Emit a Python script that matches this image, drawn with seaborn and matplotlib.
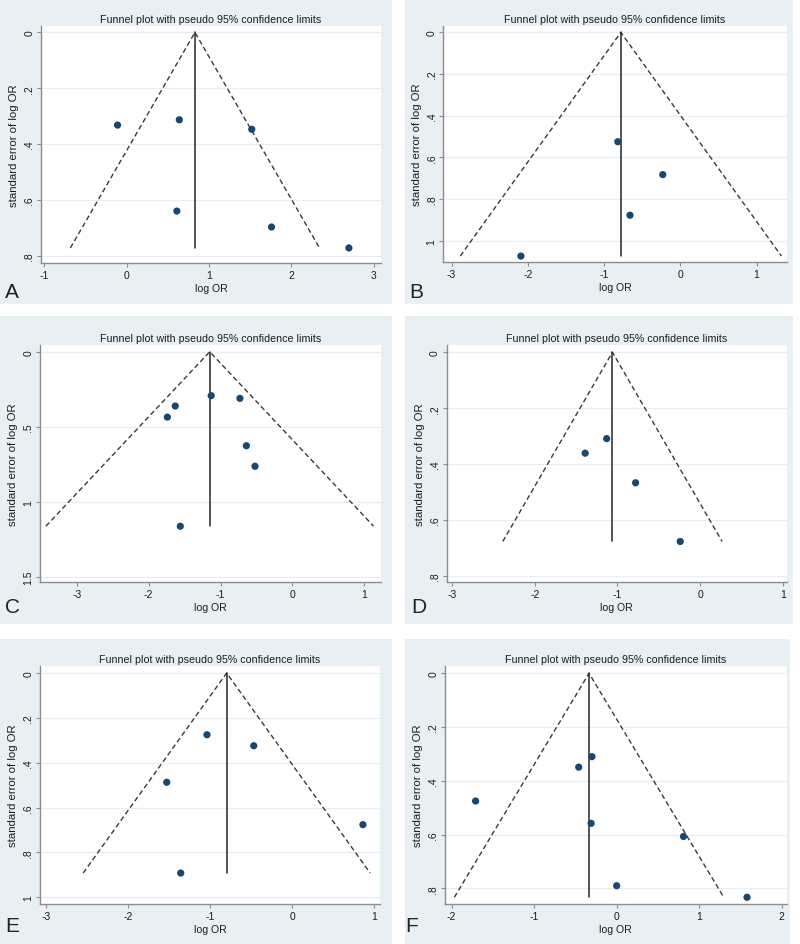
import matplotlib
matplotlib.use("Agg")
import matplotlib.pyplot as plt
import seaborn as sns
import pandas as pd
from matplotlib.patches import Rectangle

# ---------------- data ----------------
a_lor = [-0.11, 0.64, 1.52, 0.61, 1.76, 2.70]
a_se = [0.332, 0.313, 0.347, 0.640, 0.697, 0.772]
a_pooled = 0.83

b_lor = [-0.82, -0.23, -0.66, -2.09]
b_se = [0.525, 0.683, 0.878, 1.074]
b_pooled = -0.78

c_lor = [-1.63, -1.74, -1.13, -0.73, -0.64, -0.52, -1.56]
c_se = [0.362, 0.436, 0.293, 0.311, 0.627, 0.764, 1.164]
c_pooled = -1.15

d_lor = [-1.13, -1.39, -0.78, -0.24]
d_se = [0.309, 0.361, 0.467, 0.677]
d_pooled = -1.06

e_lor = [-1.04, -0.47, -1.53, 0.86, -1.36]
e_se = [0.275, 0.324, 0.487, 0.676, 0.892]
e_pooled = -0.80

f_lor = [-0.30, -0.46, -1.71, -0.31, 0.81, 0.00, 1.58]
f_se = [0.310, 0.349, 0.475, 0.558, 0.607, 0.790, 0.833]
f_pooled = -0.335

panel_letters = ["A", "B", "C", "D", "E", "F"]
title_text = "Funnel plot with pseudo 95% confidence limits"
x_label = "log OR"
y_label = "standard error of log OR"

yt_02_08 = [0, 0.2, 0.4, 0.6, 0.8]
yl_02_08 = ["0", ".2", ".4", ".6", ".8"]
yt_02_10 = [0, 0.2, 0.4, 0.6, 0.8, 1.0]
yl_02_10 = ["0", ".2", ".4", ".6", ".8", "1"]
yt_05_15 = [0, 0.5, 1.0, 1.5]
yl_05_15 = ["0", ".5", "1", "1.5"]
xt_m1_3 = [-1, 0, 1, 2, 3]
xt_m3_1 = [-3, -2, -1, 0, 1]
xt_m2_2 = [-2, -1, 0, 1, 2]

# ---------------- layout ----------------
W, H = 800, 945
BG = "#e9f0f3"
NAVY = "#1a476f"
AXC = "#8c8c8c"
TXT = "#1c1c1c"

panels = [
    dict(lor=a_lor, se=a_se, pooled=a_pooled, xt=xt_m1_3, yt=yt_02_08, yl=yl_02_08,
         xlim=(-1.04, 3.09), ylim=(0.827, -0.024),
         box=(41, 26.7, 381, 264.3), bg=(0, 0, 392, 305), letter=(5, 298)),
    dict(lor=b_lor, se=b_se, pooled=b_pooled, xt=xt_m3_1, yt=yt_02_10, yl=yl_02_10,
         xlim=(-3.108, 1.395), ylim=(1.104, -0.032),
         box=(443.3, 26.7, 786.7, 263.3), bg=(405, 0, 793, 305), letter=(409, 298)),
    dict(lor=c_lor, se=c_se, pooled=c_pooled, xt=xt_m3_1, yt=yt_05_15, yl=yl_05_15,
         xlim=(-3.513, 1.234), ylim=(1.538, -0.047),
         box=(40, 345.7, 381, 583.3), bg=(0, 317, 392, 625), letter=(5, 613)),
    dict(lor=d_lor, se=d_se, pooled=d_pooled, xt=xt_m3_1, yt=yt_02_08, yl=yl_02_08,
         xlim=(-3.065, 1.048), ylim=(0.823, -0.027),
         box=(446.7, 345.7, 786.7, 583.3), bg=(405, 317, 793, 625), letter=(411, 613)),
    dict(lor=e_lor, se=e_se, pooled=e_pooled, xt=xt_m3_1, yt=yt_02_10, yl=yl_02_10,
         xlim=(-3.074, 1.068), ylim=(1.030, -0.033),
         box=(40, 666.7, 380, 905), bg=(0, 640, 392, 945), letter=(5, 932)),
    dict(lor=f_lor, se=f_se, pooled=f_pooled, xt=xt_m2_2, yt=yt_02_08, yl=yl_02_08,
         xlim=(-2.081, 2.061), ylim=(0.858, -0.026),
         box=(445, 667.3, 786.7, 905), bg=(405, 640, 790, 945), letter=(405, 932)),
]

sns.set_theme(style="white")
plt.rcParams["font.family"] = ["Liberation Sans", "DejaVu Sans"]

fig = plt.figure(figsize=(W / 100, H / 100), dpi=100)
fig.patch.set_facecolor("white")

for p, letter in zip(panels, panel_letters):
    x0, y0, x1, y1 = p["bg"]
    fig.patches.append(Rectangle((x0 / W, 1 - y1 / H), (x1 - x0) / W, (y1 - y0) / H,
                                 transform=fig.transFigure, facecolor=BG,
                                 edgecolor="none", zorder=-10))

    l, t, r, b = p["box"]
    ax = fig.add_axes([l / W, 1 - b / H, (r - l) / W, (b - t) / H])
    ax.set_zorder(1)
    ax.set_facecolor("white")

    df = pd.DataFrame({"lor": p["lor"], "se": p["se"]})
    se_max = max(p["se"])
    th = p["pooled"]

    # horizontal grid lines
    for yv in p["yt"]:
        ax.axhline(yv, color="#e6eef1", lw=0.9, zorder=0)

    # pseudo 95% confidence limits
    ax.plot([th - 1.96 * se_max, th, th + 1.96 * se_max], [se_max, 0, se_max],
            color="#3a3a3a", lw=1.0, dashes=(3.6, 2.2), zorder=2)
    ax.plot([th, th], [0, se_max], color="#262626", lw=1.1, zorder=2)

    sns.scatterplot(data=df, x="lor", y="se", ax=ax, color=NAVY, s=27,
                    edgecolor="none", linewidth=0, zorder=3, legend=False)

    ax.set_xlim(*p["xlim"])
    ax.set_ylim(*p["ylim"])
    ax.set_xticks(p["xt"])
    ax.set_xticklabels([str(v) for v in p["xt"]])
    ax.set_yticks(p["yt"])
    ax.set_yticklabels(p["yl"], rotation=90, va="center")

    for s in ["top", "right"]:
        ax.spines[s].set_visible(False)
    for s in ["left", "bottom"]:
        ax.spines[s].set_color(AXC)
        ax.spines[s].set_linewidth(1.0)

    ax.tick_params(axis="both", which="major", direction="out", length=3,
                   width=0.8, color=AXC, labelsize=7.5, pad=1.8,
                   labelcolor=TXT, left=True, bottom=True)
    ax.set_xlabel(x_label, fontsize=7.6, color=TXT, labelpad=2.5)
    ax.set_ylabel(y_label, fontsize=8.2, color=TXT, labelpad=3.5)
    ax.set_title(title_text, fontsize=7.7, color=TXT, pad=3)

    lx, ly = p["letter"]
    fig.text(lx / W, 1 - ly / H, letter, fontsize=15, color="#222222",
             ha="left", va="baseline")

fig.savefig("out.png", dpi=100, facecolor="white")
